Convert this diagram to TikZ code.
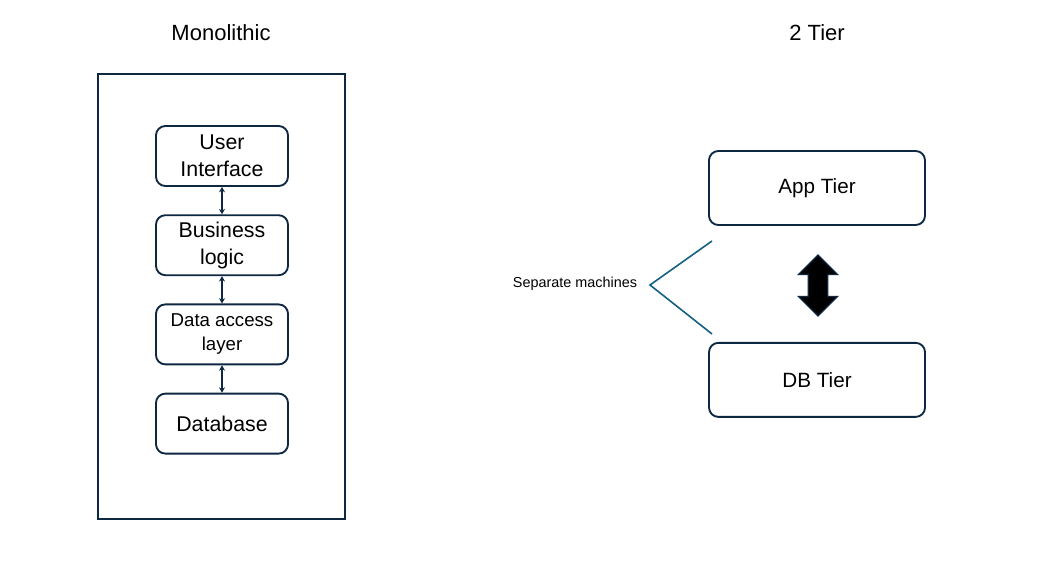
\documentclass[tikz,border=0pt]{standalone}
\usepackage{fontspec}
\setmainfont{Liberation Sans}
\usetikzlibrary{positioning, arrows.meta, shapes.arrows}
\definecolor{darkline}{HTML}{0E2841}
\definecolor{tealline}{HTML}{156082}

\begin{document}
\begin{tikzpicture}[
    x=0.75pt, y=-0.75pt,
    node distance=20.5pt and 1.0cm,
    box/.style={rectangle, draw=darkline, line width=1.4pt, rounded corners=7pt, align=center,
        minimum width=99pt, minimum height=45pt, inner sep=2pt, font=\fontsize{16}{20}\selectfont},
    tier/.style={box, minimum width=162pt, minimum height=55.5pt, font=\fontsize{15.5}{18}\selectfont},
    title/.style={font=\fontsize{16.5}{19}\selectfont},
    arrow/.style={{Stealth[length=4pt,width=4.5pt]}-{Stealth[length=4pt,width=4.5pt]}, line width=1.5pt, darkline}
]
\useasboundingbox (0,0) rectangle (1038,575);

% monolithic side
\node[title] (montitle) at (221,33) {Monolithic};
\node[draw=darkline, line width=1.4pt, minimum width=185.25pt, minimum height=333.75pt] (frame) at (221.5,296.5) {};
\node[box] (ui) at (222,156) {User\\Interface};
\node[box, below=of ui] (bl) {Business\\logic};
\node[box, below=of bl, font=\fontsize{14}{18}\selectfont] (dal) {Data access\\layer};
\node[box, below=of dal] (db) {Database};

\draw[arrow] (ui) -- (bl);
\draw[arrow] (bl) -- (dal);
\draw[arrow] (dal) -- (db);

% 2 tier side
\node[title] (tiertitle) at (817,33) {2 Tier};
\node[tier] (app) at (817,188) {App Tier};
\node[tier, below=87pt of app] (dbt) {DB Tier};
\node[double arrow, draw=darkline, fill=black, line width=1pt, rotate=90, inner sep=6.8pt,
    minimum height=45.75pt, double arrow head extend=7.3pt] (bigarrow) at (818,285.5) {};

\node[font=\fontsize{10.8}{12}\selectfont] (sep) at (575,284) {Separate machines};
\coordinate (apex) at (650,285);
\coordinate (uptip) at (712,241);
\coordinate (downtip) at (712,334);
\draw[tealline, line width=1.2pt] (uptip) -- (apex) -- (downtip);
\end{tikzpicture}
\end{document}
